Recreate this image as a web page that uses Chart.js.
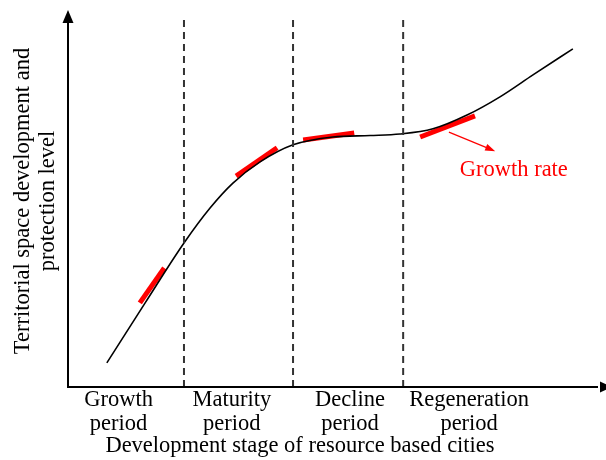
<!DOCTYPE html>
<html><head><meta charset="utf-8">
<script src="https://cdn.jsdelivr.net/npm/chart.js@4"></script>
<style>html,body{margin:0;padding:0;background:#fff}#wrap{width:606px;height:460px}</style>
</head><body><div id="wrap"><canvas id="c" width="606" height="460"></canvas></div>
<script>
// ---- data (x and y both on an arbitrary 0-100 scale) ----
const stageLabels = [['Growth','period'],['Maturity','period'],['Decline','period'],['Regeneration','period']];
const stageCenters = [9.5, 30.8, 53.0, 75.4];
const stageBoundaries = [21.8, 42.3, 63.0];
const curveX = [7.3, 14.5, 21.8, 26.7, 31.0, 36.1, 42.3, 49.8, 56.8, 62.4, 68.6, 75.0, 81.2, 87.4, 94.9];
const curveY = [6.5, 22.6, 38.7, 48.1, 54.8, 60.5, 65.1, 67.2, 67.6, 68.0, 69.4, 73.1, 78.0, 83.9, 90.9];
const rateStartX = [13.5, 31.6, 44.2, 66.2];
const rateStartY = [22.6, 56.7, 66.4, 67.2];
const rateEndX = [18.1, 39.3, 53.8, 76.5];
const rateEndY = [32.0, 64.3, 68.3, 72.9];
const noteArrowX = [71.6, 80.3];
const noteArrowY = [68.5, 63.4];
const noteText = 'Growth rate';
const noteTextPos = [83.8, 56.7];
const xTitle = 'Development stage of resource based cities';
const yTitle = ['Territorial space development and', 'protection level'];

const FONT = '22.5px "Liberation Serif", "Times New Roman", serif';

const datasets = [];
stageBoundaries.forEach(b => datasets.push({
  data: [{x: b, y: 0}, {x: b, y: 99.2}],
  borderColor: '#333', borderWidth: 2, borderDash: [7, 5], pointRadius: 0, tension: 0
}));
datasets.push({
  data: curveX.map((x, i) => ({x, y: curveY[i]})),
  borderColor: '#000', borderWidth: 1.6, pointRadius: 0, cubicInterpolationMode: 'monotone'
});
rateStartX.forEach((x, i) => datasets.push({
  data: [{x, y: rateStartY[i]}, {x: rateEndX[i], y: rateEndY[i]}],
  borderColor: '#ff0000', borderWidth: 5, pointRadius: 0, borderCapStyle: 'butt', tension: 0
}));

const decor = {
  id: 'decor',
  afterDraw(chart) {
    const ctx = chart.ctx, xs = chart.scales.x, ys = chart.scales.y;
    const a = chart.chartArea;
    const X = v => xs.getPixelForValue(v), Y = v => ys.getPixelForValue(v);
    ctx.save();
    // axes
    ctx.strokeStyle = '#000'; ctx.fillStyle = '#000'; ctx.lineWidth = 2;
    ctx.beginPath();
    ctx.moveTo(a.left, a.top + 8); ctx.lineTo(a.left, a.bottom);
    ctx.lineTo(a.right - 2, a.bottom);
    ctx.stroke();
    ctx.beginPath();
    ctx.moveTo(a.left, a.top - 5); ctx.lineTo(a.left - 5.5, a.top + 8); ctx.lineTo(a.left + 5.5, a.top + 8); ctx.closePath(); ctx.fill();
    ctx.beginPath();
    ctx.moveTo(a.right + 12, a.bottom); ctx.lineTo(a.right, a.bottom - 5.5); ctx.lineTo(a.right, a.bottom + 5.5); ctx.closePath(); ctx.fill();
    // annotation arrow
    const x1 = X(noteArrowX[0]), y1 = Y(noteArrowY[0]), x2 = X(noteArrowX[1]), y2 = Y(noteArrowY[1]);
    const ang = Math.atan2(y2 - y1, x2 - x1);
    ctx.strokeStyle = '#ff0000'; ctx.fillStyle = '#ff0000'; ctx.lineWidth = 1.2;
    ctx.beginPath(); ctx.moveTo(x1, y1); ctx.lineTo(x2 - 8 * Math.cos(ang), y2 - 8 * Math.sin(ang)); ctx.stroke();
    ctx.beginPath();
    ctx.moveTo(x2, y2);
    ctx.lineTo(x2 - 10 * Math.cos(ang) + 3.5 * Math.sin(ang), y2 - 10 * Math.sin(ang) - 3.5 * Math.cos(ang));
    ctx.lineTo(x2 - 10 * Math.cos(ang) - 3.5 * Math.sin(ang), y2 - 10 * Math.sin(ang) + 3.5 * Math.cos(ang));
    ctx.closePath(); ctx.fill();
    // texts
    ctx.font = FONT; ctx.textAlign = 'center'; ctx.textBaseline = 'alphabetic';
    ctx.fillText(noteText, X(noteTextPos[0]), Y(noteTextPos[1]));
    ctx.fillStyle = '#000';
    stageLabels.forEach((l, i) => {
      ctx.fillText(l[0], X(stageCenters[i]), a.bottom + 19);
      ctx.fillText(l[1], X(stageCenters[i]), a.bottom + 43);
    });
    ctx.fillText(xTitle, 300, a.bottom + 65);
    ctx.translate(0, 201); ctx.rotate(-Math.PI / 2);
    ctx.fillText(yTitle[0], 0, 29);
    ctx.fillText(yTitle[1], 0, 54);
    ctx.restore();
  }
};

new Chart(document.getElementById('c'), {
  type: 'line',
  data: { datasets },
  options: {
    responsive: false, animation: false,
    layout: { padding: { left: 68, right: 6, top: 15, bottom: 73 } },
    plugins: { legend: { display: false }, tooltip: { enabled: false } },
    scales: {
      x: { type: 'linear', min: 0, max: 100, display: false },
      y: { type: 'linear', min: 0, max: 100, display: false }
    }
  },
  plugins: [decor]
});
</script></body></html>
